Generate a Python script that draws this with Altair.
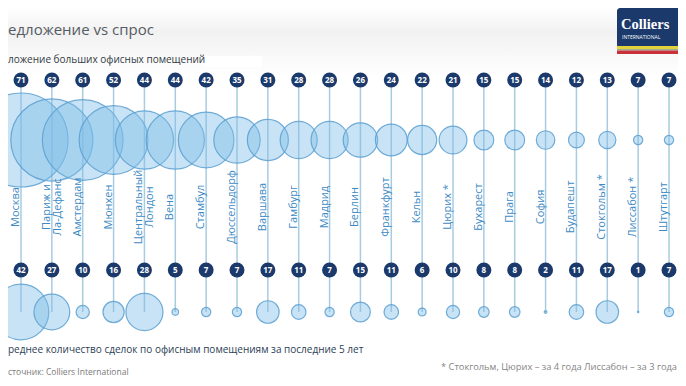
import altair as alt
import pandas as pd

cities = ["Москва", "Париж и\nЛа-Дефанс", "Амстердам", "Мюнхен", "Центральный\nЛондон", "Вена",
          "Стамбул", "Дюссельдорф", "Варшава", "Гамбург", "Мадрид", "Берлин", "Франкфурт", "Кельн",
          "Цюрих *", "Бухарест", "Прага", "София", "Будапешт", "Стокгольм *", "Лиссабон *", "Штутгарт"]
supply = [71, 62, 61, 52, 44, 44, 42, 35, 31, 28, 28, 26, 24, 22, 21, 15, 15, 14, 12, 13, 7, 7]
deals = [42, 27, 10, 16, 28, 5, 7, 7, 17, 11, 7, 15, 11, 6, 10, 8, 8, 2, 11, 17, 1, 7]

title_text = "едложение vs спрос"
subtitle_text = "ложение больших офисных помещений"
bottom_text = "реднее количество сделок по офисным помещениям за последние 5 лет"
source_text = "сточник: Colliers International"
note_text = "* Стокгольм, Цюрих – за 4 года Лиссабон – за 3 года"
logo_text = "Colliers"
logo_sub = "INTERNATIONAL"

FONT = "Open Sans"
NAVY = "#1b3a6b"

df = pd.DataFrame({"i": list(range(len(cities))), "city": cities, "supply": supply, "deals": deals})
base = alt.Chart(df)

xenc = alt.X("i:Q", scale=alt.Scale(domain=[0, 21], range=[13, 661]), axis=None)
size_scale = alt.Scale(type="pow", exponent=2, domain=[0, 71], range=[0, 8836])

# Background band
bg = alt.Chart(pd.DataFrame({"a": [0]})).mark_rect(
    fill=alt.LinearGradient(gradient="linear", x1=0, y1=0, x2=0, y2=1,
                            stops=[alt.GradientStop(color="#ffffff", offset=0),
                                   alt.GradientStop(color="#f1f1f1", offset=0.35),
                                   alt.GradientStop(color="#ffffff", offset=1)])
).encode(x=alt.value(0), x2=alt.value(670), y=alt.value(0), y2=alt.value(68))

white_box = alt.Chart(pd.DataFrame({"a": [0]})).mark_rect(fill="#ffffff").encode(
    x=alt.value(195), x2=alt.value(254), y=alt.value(48), y2=alt.value(59))

rules = base.mark_rule(color="#a9cbe0", strokeWidth=1.5).encode(
    x=xenc, y=alt.value(72), y2=alt.value(304))

bubble_style = dict(filled=True, fill="#7dbde8", fillOpacity=0.42, stroke="#5a9fd0",
                    strokeWidth=1.2, strokeOpacity=0.85, shape="circle")

top_bubbles = base.mark_point(**bubble_style).encode(
    x=xenc, y=alt.value(132), size=alt.Size("supply:Q", scale=size_scale, legend=None))

bottom_bubbles = base.mark_point(**bubble_style).encode(
    x=xenc, y=alt.value(304), size=alt.Size("deals:Q", scale=size_scale, legend=None))

def badges(field, yv):
    c = base.mark_circle(color=NAVY, opacity=1, size=225).encode(x=xenc, y=alt.value(yv))
    t = base.mark_text(color="white", font=FONT, fontSize=8, fontWeight="bold",
                       align="center", baseline="middle").encode(
        x=xenc, y=alt.value(yv + 0.5), text=alt.Text(f"{field}:Q"))
    return c + t

labels = base.mark_text(font=FONT, fontSize=11, color="#3d8ac4", angle=270, align="center",
                        baseline="bottom", lineBreak="\n", lineHeight=11).encode(
    x=xenc, y=alt.value(199), text="city:N")

def txt(s, x, y, size, color, align="left", weight="normal", font=FONT, baseline="middle"):
    return alt.Chart(pd.DataFrame({"t": [s]})).mark_text(
        font=font, fontSize=size, color=color, align=align, fontWeight=weight, baseline=baseline
    ).encode(x=alt.value(x), y=alt.value(y), text="t:N")

title = txt(title_text, 0, 22, 15, "#555b62")
subtitle = txt(subtitle_text, 0, 52, 10, "#333a44")
bottom = txt(bottom_text, 0, 342, 10, "#2b3e55")
source = txt(source_text, 0, 364, 8.5, "#7a7a7a")
note = txt(note_text, 669, 359, 9.3, "#858585", align="right")

logo_box = alt.Chart(pd.DataFrame({"a": [0]})).mark_rect(fill=NAVY, cornerRadius=3).encode(
    x=alt.value(609), x2=alt.value(680), y=alt.value(0), y2=alt.value(40))
logo_y = alt.Chart(pd.DataFrame({"a": [0]})).mark_rect(fill="#e2d23c").encode(
    x=alt.value(609), x2=alt.value(680), y=alt.value(38), y2=alt.value(41))
logo_g = alt.Chart(pd.DataFrame({"a": [0]})).mark_rect(fill="#9fb08a").encode(
    x=alt.value(609), x2=alt.value(680), y=alt.value(41), y2=alt.value(42.5))
logo_r = alt.Chart(pd.DataFrame({"a": [0]})).mark_rect(fill="#c8323c").encode(
    x=alt.value(609), x2=alt.value(680), y=alt.value(42.5), y2=alt.value(46))
logo_t = txt(logo_text, 613, 17, 14.5, "white", weight="bold", font="Liberation Serif")
logo_s = txt(logo_sub, 614, 29, 5, "white")

chart = alt.layer(
    bg, white_box, rules, top_bubbles, bottom_bubbles,
    badges("supply", 72), badges("deals", 262), labels,
    title, subtitle, bottom, source, note,
    logo_box, logo_y, logo_g, logo_r, logo_t, logo_s
).properties(
    width=670, height=368, padding=0, background="white",
    autosize=alt.AutoSizeParams(type="none")
).configure_view(stroke=None)

chart.save("out.html", embed_options={"renderer": "svg", "actions": False})
